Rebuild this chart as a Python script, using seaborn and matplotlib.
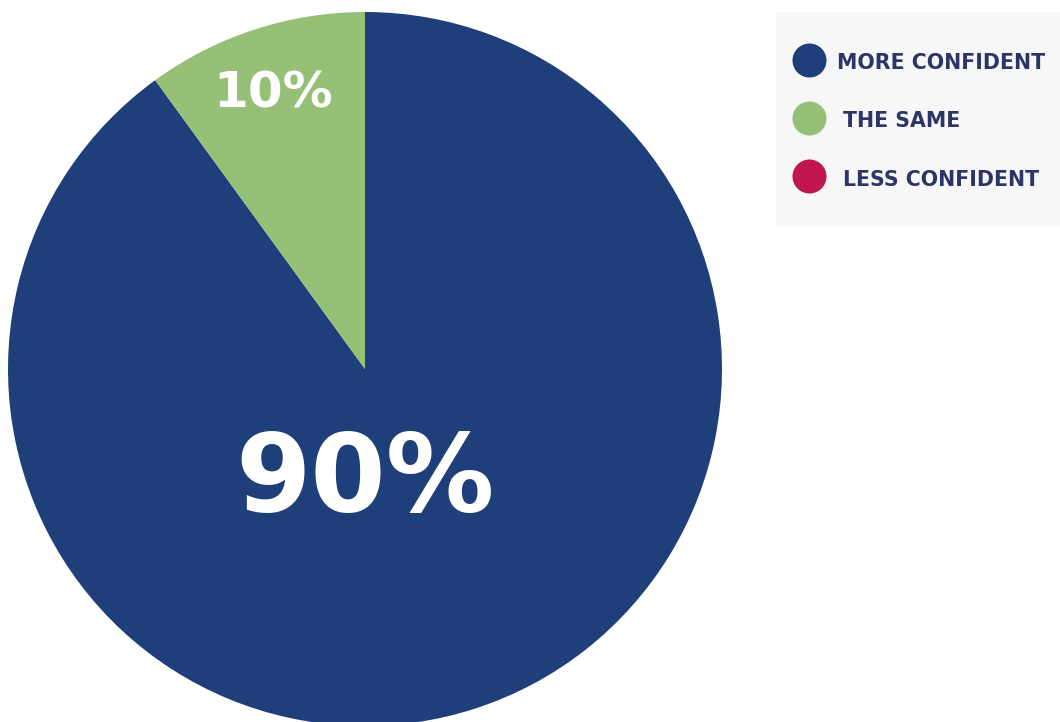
import matplotlib
matplotlib.use("Agg")
import matplotlib.pyplot as plt
import seaborn as sns

categories = ["MORE CONFIDENT", "THE SAME", "LESS CONFIDENT"]
values = [90, 10, 0]
colors = ["#1e3f7a", "#97c077", "#c0174f"]
labels = ["90%", "10%", ""]

sns.set_theme(style="white")
plt.rcParams['font.family'] = ['DejaVu Sans']

W, H = 1060, 722
fig = plt.figure(figsize=(W / 100, H / 100), dpi=100)
fig.patch.set_facecolor("white")

cx, cy, r = 365, 369, 357
ax = fig.add_axes([(cx - r) / W, (H - cy - r) / H, 2 * r / W, 2 * r / H])
wedges, _ = ax.pie(values, colors=colors, startangle=90, counterclock=False,
                   radius=1, wedgeprops=dict(linewidth=0))
ax.set_xlim(-1, 1)
ax.set_ylim(-1, 1)
ax.set_aspect("equal")
ax.axis("off")

# labels
ax.text(0.0, (cy - 511) / r, labels[0], color="white", fontsize=78,
        fontweight="bold", ha="center", va="baseline")
ax.text((273 - cx) / r, (cy - 107) / r, labels[1], color="white", fontsize=36,
        fontweight="bold", ha="center", va="baseline")

# legend box
lx0, ly0, lx1, ly1 = 776, 12, 1060, 226
lax = fig.add_axes([lx0 / W, (H - ly1) / H, (lx1 - lx0) / W, (ly1 - ly0) / H])
lax.set_facecolor("#f7f7f7")
lax.set_xlim(0, lx1 - lx0)
lax.set_ylim(ly1 - ly0, 0)
for s in lax.spines.values():
    s.set_visible(False)
lax.set_xticks([])
lax.set_yticks([])
rows_y = [48, 106, 164]
base_y = [57, 115, 174]
text_x = [61, 67, 67]
for cat, col, yy, by, tx in zip(categories, colors, rows_y, base_y, text_x):
    lax.scatter([33], [yy], s=600, color=col, linewidths=0)
    lax.text(tx, by, cat, color="#2c3468", fontsize=14.8, fontweight="bold",
             ha="left", va="baseline")

fig.savefig("out.png", dpi=100)
